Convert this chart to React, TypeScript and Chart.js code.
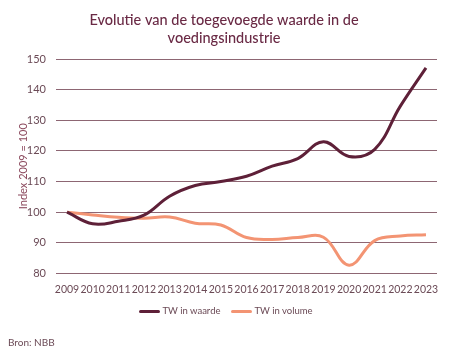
import React, { useEffect, useRef } from "react";
import { Chart, registerables } from "chart.js";

Chart.register(...registerables);

const years = [2009, 2010, 2011, 2012, 2013, 2014, 2015, 2016, 2017, 2018, 2019, 2020, 2021, 2022, 2023];
const waarde = [100, 96.2, 97, 99, 105.2, 108.7, 110, 111.7, 115, 117.5, 123, 118.2, 120.5, 134.6, 147.1];
const volume = [100, 99.1, 98.3, 98, 98.4, 96.4, 95.8, 91.7, 91.1, 91.7, 91.8, 82.7, 90.7, 92.2, 92.6];
const yTicks = [80, 90, 100, 110, 120, 130, 140, 150];

const titleLines = ["Evolutie van de toegevoegde waarde in de", "voedingsindustrie"];
const yTitle = "Index 2009 = 100";
const seriesNames = ["TW in waarde", "TW in volume"];
const source = "Bron: NBB";

const FONT = "Lato, 'Open Sans', sans-serif";
const PLUM = "#5e2038";
const SALMON = "#f39473";
const TEXT = "#6b4a56";
const TITLE_COLOR = "#6a2a45";
const colors = [PLUM, SALMON];

const titlePlugin = {
  id: "fixedTitle",
  afterDraw(chart: any) {
    const c = chart.ctx;
    c.save();
    c.fillStyle = TITLE_COLOR;
    c.font = `500 14.5px ${FONT}`;
    c.textAlign = "center";
    c.textBaseline = "middle";
    titleLines.forEach((t, i) => c.fillText(t, 224, 20 + i * 18));
    c.restore();
  },
};

export default function App() {
  const ref = useRef<HTMLCanvasElement>(null);
  useEffect(() => {
    const ctx = ref.current!;
    const chart = new Chart(ctx, {
      type: "line",
      data: {
        datasets: [
          {
            label: seriesNames[0],
            data: years.map((y, i) => ({ x: y, y: waarde[i] })),
            borderColor: PLUM,
            backgroundColor: PLUM,
            borderWidth: 3,
            pointRadius: 0,
            tension: 0.4,
          },
          {
            label: seriesNames[1],
            data: years.map((y, i) => ({ x: y, y: volume[i] })),
            borderColor: SALMON,
            backgroundColor: SALMON,
            borderWidth: 3,
            pointRadius: 0,
            tension: 0.4,
          },
        ],
      },
      plugins: [titlePlugin],
      options: {
        animation: false,
        responsive: false,
        maintainAspectRatio: false,
        layout: { padding: { left: 0, right: 23, top: 59, bottom: 47 } },
        plugins: {
          tooltip: { enabled: false },
          title: { display: false },
          legend: { display: false },
        },
        scales: {
          x: {
            type: "linear",
            min: 2008.57,
            max: 2023.43,
            afterBuildTicks: (s: any) => {
              s.ticks = years.map((v) => ({ value: v }));
            },
            grid: { display: false, drawTicks: false },
            border: { display: false },
            ticks: {
              color: TEXT,
              font: { family: FONT, size: 10.5 },
              maxRotation: 0,
              autoSkip: false,
              padding: 10,
              callback: (v: any) => String(v),
            },
          },
          y: {
            min: 80,
            max: 150,
            afterBuildTicks: (s: any) => {
              s.ticks = yTicks.map((v) => ({ value: v }));
            },
            afterFit: (s: any) => {
              s.width = 56;
            },
            grid: { color: "#8d6673", lineWidth: 1, drawTicks: false },
            border: { display: false },
            ticks: {
              color: TEXT,
              font: { family: FONT, size: 11 },
              padding: 10,
            },
            title: {
              display: true,
              text: yTitle,
              color: "#8c4a5e",
              font: { family: FONT, size: 11 },
              padding: { top: 17, bottom: 0 },
            },
          },
        },
      },
    });
    return () => chart.destroy();
  }, []);
  return (
    <div style={{ position: "fixed", left: 0, top: 0, width: 460, height: 353, background: "#fff" }}>
      <canvas ref={ref} width={460} height={353} style={{ display: "block", width: 460, height: 353 }} />
      <div
        style={{
          position: "absolute",
          left: 0,
          width: 452,
          top: 304,
          display: "flex",
          justifyContent: "center",
          alignItems: "center",
          fontFamily: FONT,
          fontSize: 9.5,
          color: TEXT,
          lineHeight: "14px",
        }}
      >
        {seriesNames.map((n, i) => (
          <div key={n} style={{ display: "flex", alignItems: "center", marginRight: i === 0 ? 11 : 0 }}>
            <span style={{ display: "inline-block", width: 21, height: 3, borderRadius: 2, background: colors[i], marginRight: 2 }} />
            <span>{n}</span>
          </div>
        ))}
      </div>
      <div
        style={{
          position: "absolute",
          left: 8,
          top: 336,
          fontFamily: FONT,
          fontSize: 10,
          color: TEXT,
        }}
      >
        {source}
      </div>
    </div>
  );
}
